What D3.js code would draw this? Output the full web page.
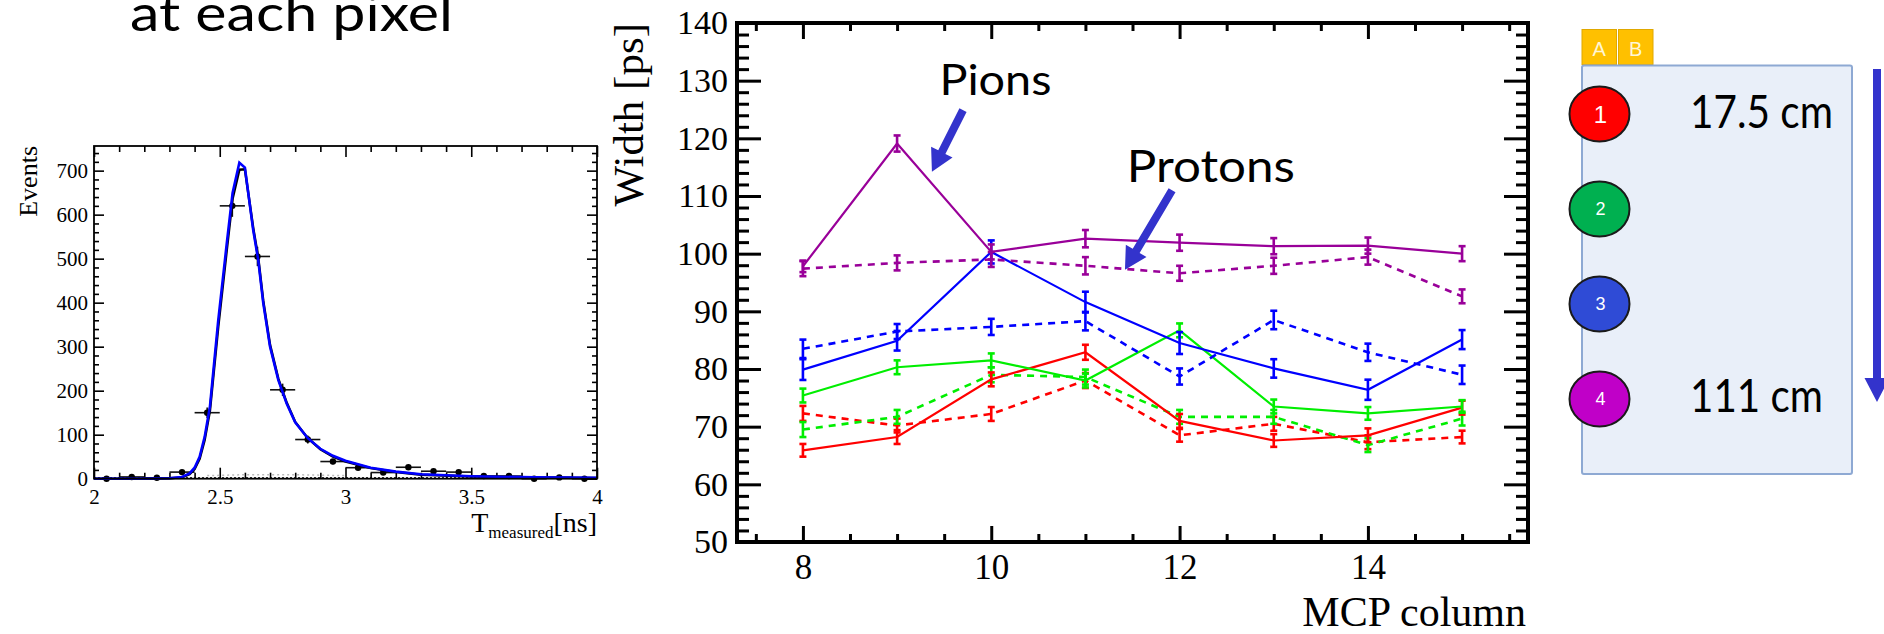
<!DOCTYPE html>
<meta charset="utf-8">
<style>
body { margin: 0; background: #fff; }
svg { display: block; }
.frame { fill: none; stroke: #000; }
.tick line { stroke: #000; }
.serif { font-family: "Liberation Serif", "Times New Roman", serif; }
.slide { font-family: Lato, "Open Sans", sans-serif; }
</style>
<body>
<script src="https://cdn.jsdelivr.net/npm/d3@7"></script>
<script>

// ---- data: width vs MCP column (ps) ----
var columns = [8, 9, 10, 11, 12, 13, 14, 15];
var redSolid     = [65.9, 68.2, 78.2, 82.9, 71.0, 67.6, 68.5, 73.3];
var redDashed    = [72.3, 70.2, 72.2, 78.0, 68.5, 70.5, 67.3, 68.2];
var greenSolid   = [75.4, 80.3, 81.5, 78.0, 86.7, 73.5, 72.3, 73.5];
var greenDashed  = [69.5, 71.7, 79.0, 78.6, 71.7, 71.7, 66.8, 71.4];
var blueSolid    = [79.9, 84.9, 100.3, 91.6, 84.5, 80.1, 76.4, 85.1];
var blueDashed   = [83.5, 86.5, 87.3, 88.3, 78.7, 88.5, 82.9, 79.0];
var purpleSolid  = [97.8, 119.1, 100.3, 102.6, 101.9, 101.3, 101.4, 100.0];
var purpleDashed = [97.4, 98.4, 99.0, 97.9, 96.6, 97.9, 99.4, 92.6];

var redSolidErr     = [1.1, 1.2, 1.2, 1.3, 1.2, 1.1, 1.2, 1.2];
var redDashedErr    = [1.3, 1.2, 1.2, 1.3, 1.1, 1.2, 1.2, 1.1];
var greenSolidErr   = [1.2, 1.2, 1.2, 1.2, 1.2, 1.2, 1.1, 1.1];
var greenDashedErr  = [1.3, 1.2, 1.3, 1.3, 1.2, 1.2, 1.2, 1.2];
var blueSolidErr    = [1.8, 1.7, 2.0, 1.8, 1.9, 1.6, 1.75, 1.65];
var blueDashedErr   = [1.6, 1.3, 1.4, 1.6, 1.4, 1.6, 1.5, 1.6];
var purpleSolidErr  = [1.0, 1.4, 1.3, 1.5, 1.4, 1.4, 1.4, 1.3];
var purpleDashedErr = [1.3, 1.3, 1.3, 1.5, 1.3, 1.4, 1.3, 1.2];

var xTicks = [8, 10, 12, 14];
var yTicks = [50, 60, 70, 80, 90, 100, 110, 120, 130, 140];

// ---- data: T_measured histogram ----
var binCenters = [2.05, 2.15, 2.25, 2.35, 2.45, 2.55, 2.65, 2.75, 2.85, 2.95,
                  3.05, 3.15, 3.25, 3.35, 3.45, 3.55, 3.65, 3.75, 3.85, 3.95];
var counts    = [0, 4, 2, 15, 150, 620, 505, 202, 89, 39, 25, 14, 26, 17, 15, 6, 6, 0, 3, 0];
var countErr  = [1, 2, 1.5, 4, 12, 25, 22, 14, 9, 6, 5, 4, 5, 4, 4, 2.5, 2.5, 1, 1.7, 1];
var fitX     = [2.0, 2.2, 2.3, 2.35, 2.38, 2.40, 2.42, 2.44, 2.461, 2.494, 2.528, 2.551, 2.578, 2.600,
                2.633, 2.653, 2.673, 2.700, 2.733, 2.766, 2.80, 2.85, 2.90, 2.95, 3.0, 3.1, 3.2, 3.3, 3.5, 3.75, 4.0];
var fitBlue  = [0, 0, 1, 4, 12, 25, 50, 95, 164, 360, 535, 649, 718, 707,
                565, 497, 399, 300, 224, 171, 128, 92, 68, 52, 41, 25, 16, 10, 5.5, 3, 2];
var fitBlack = [0, 0, 1, 3, 10, 22, 45, 88, 155, 345, 520, 636, 702, 703,
                570, 502, 404, 304, 227, 173, 129, 92, 67, 50, 39, 24, 15, 9, 5, 3, 1.5];
var bkgX = [2.45, 2.6, 2.8, 3.0];
var bkgY = [7, 9, 9, 7];
var hxTicks = [2, 2.5, 3, 3.5, 4];
var hyTicks = [0, 100, 200, 300, 400, 500, 600, 700];

// ---- detector sketch ----
var pmts = ["1", "2", "3", "4"];
var pmtColors = ["#ff0000", "#00b050", "#2f4bd6", "#c000c8"];

var svg = d3.select("body").append("svg")
    .attr("width", 1884)
    .attr("height", 634);

// slide title (cut at top)
svg.append("text")
    .attr("class", "slide")
    .attr("x", 130).attr("y", 31)
    .attr("textLength", 323).attr("lengthAdjust", "spacingAndGlyphs")
    .style("font-size", "50px")
    .text("at each pixel");

// ================= left: histogram =================
var hx = d3.scaleLinear().domain([2, 4]).range([94, 597]);
var hy = d3.scaleLinear().domain([0, 756]).range([478.7, 146]);
var h = svg.append("g");

function minorRange(a, b, step, skip) {
  var out = [];
  for (var v = a; v <= b + 1e-9; v += step) {
    var r = Math.round(v * 100) / 100;
    if (skip.indexOf(r) < 0) out.push(r);
  }
  return out;
}

function ticksGroup(g, axis, tr, width) {
  var a = g.append("g").attr("transform", tr).call(axis);
  a.select(".domain").remove();
  a.selectAll(".tick line").style("stroke-width", width);
  return a;
}

var plain = function(d) { return String(d); };
var hxMinor = minorRange(2, 4, 0.1, hxTicks);
var hyMinor = minorRange(0, 740, 20, hyTicks);

ticksGroup(h, d3.axisBottom(hx).tickValues(hxTicks).tickSize(-11).tickPadding(10).tickFormat(plain), "translate(0,478.7)", 1.6)
  .selectAll("text").attr("class", "serif").style("font-size", "21px").attr("fill", "#000");
ticksGroup(h, d3.axisBottom(hx).tickValues(hxMinor).tickSize(-6).tickFormat(""), "translate(0,478.7)", 1.6);
ticksGroup(h, d3.axisTop(hx).tickValues(hxTicks).tickSize(-11).tickFormat(""), "translate(0,146)", 1.6);
ticksGroup(h, d3.axisTop(hx).tickValues(hxMinor).tickSize(-6).tickFormat(""), "translate(0,146)", 1.6);
ticksGroup(h, d3.axisLeft(hy).tickValues(hyTicks).tickSize(-10).tickPadding(6).tickFormat(plain), "translate(94,0)", 1.6)
  .selectAll("text").attr("class", "serif").style("font-size", "21px").attr("fill", "#000");
ticksGroup(h, d3.axisLeft(hy).tickValues(hyMinor).tickSize(-5).tickFormat(""), "translate(94,0)", 1.6);
ticksGroup(h, d3.axisRight(hy).tickValues(hyTicks).tickSize(-10).tickFormat(""), "translate(597,0)", 1.6);
ticksGroup(h, d3.axisRight(hy).tickValues(hyMinor).tickSize(-5).tickFormat(""), "translate(597,0)", 1.6);

h.append("line")
    .attr("x1", hx(2)).attr("x2", hx(4)).attr("y1", hy(0) - 1).attr("y2", hy(0) - 1)
    .style("stroke", "#000").style("stroke-width", 1).style("stroke-dasharray", "2,2");

h.append("path")
    .datum(bkgY)
    .attr("fill", "none").attr("stroke", "#bbb").attr("stroke-width", 1.5)
    .attr("stroke-dasharray", "2,3")
    .attr("d", d3.line().x(function(d, i) { return hx(bkgX[i]); }).y(function(d) { return hy(d); }));

// data points with errors
var hp = h.append("g").selectAll("g").data(counts).enter().append("g");
hp.append("line")
    .attr("x1", function(d, i) { return hx(binCenters[i] - 0.05); })
    .attr("x2", function(d, i) { return hx(binCenters[i] + 0.05); })
    .attr("y1", function(d) { return hy(d); })
    .attr("y2", function(d) { return hy(d); })
    .attr("stroke", "#111").attr("stroke-width", 1.6);
hp.append("line")
    .attr("x1", function(d, i) { return hx(binCenters[i]); })
    .attr("x2", function(d, i) { return hx(binCenters[i]); })
    .attr("y1", function(d, i) { return hy(Math.max(0, d - countErr[i])); })
    .attr("y2", function(d, i) { return hy(d + countErr[i]); })
    .attr("stroke", "#111").attr("stroke-width", 1.6);
hp.append("circle")
    .attr("cx", function(d, i) { return hx(binCenters[i]); })
    .attr("cy", function(d) { return hy(d); })
    .attr("r", 3.2).attr("fill", "#000");

var fitLine = function(vals) {
  return d3.line()
    .x(function(d, i) { return hx(fitX[i]); })
    .y(function(d) { return hy(d); })(vals);
};
h.append("path").attr("d", fitLine(fitBlack))
    .attr("fill", "none").attr("stroke", "#000").attr("stroke-width", 2.5);
h.append("path").attr("d", fitLine(fitBlue))
    .attr("fill", "none").attr("stroke", "#0000ff").attr("stroke-width", 2.6);

h.append("rect").attr("class", "frame")
    .attr("x", hx(2)).attr("y", hy(756))
    .attr("width", hx(4) - hx(2)).attr("height", hy(0) - hy(756))
    .style("stroke-width", 1.8);

h.append("text").attr("class", "serif")
    .attr("transform", "translate(37,146) rotate(-90)")
    .attr("text-anchor", "end")
    .style("font-size", "26px")
    .text("Events");

var tlab = h.append("text").attr("class", "serif")
    .attr("x", 597).attr("y", 532)
    .attr("text-anchor", "end")
    .style("font-size", "28px");
tlab.append("tspan").text("T");
tlab.append("tspan").attr("dy", 6).style("font-size", "17px").text("measured");
tlab.append("tspan").attr("dy", -6).text("[ns]");

// ================= middle: width vs column =================
var mx = d3.scaleLinear().domain([7.3, 15.7]).range([737, 1528]);
var my = d3.scaleLinear().domain([50, 140]).range([542, 23]);
var m = svg.append("g");

var mxMinor = minorRange(7.5, 15.5, 0.5, xTicks);
var myMinor = minorRange(52, 138, 2, yTicks);

ticksGroup(m, d3.axisBottom(mx).tickValues(xTicks).tickSize(-16).tickPadding(12), "translate(0,542)", 3)
  .selectAll("text").attr("class", "serif").style("font-size", "35px").attr("fill", "#000");
ticksGroup(m, d3.axisBottom(mx).tickValues(mxMinor).tickSize(-8).tickFormat(""), "translate(0,542)", 3);
ticksGroup(m, d3.axisTop(mx).tickValues(xTicks).tickSize(-16).tickFormat(""), "translate(0,23)", 3);
ticksGroup(m, d3.axisTop(mx).tickValues(mxMinor).tickSize(-8).tickFormat(""), "translate(0,23)", 3);
ticksGroup(m, d3.axisLeft(my).tickValues(yTicks).tickSize(-24).tickPadding(9), "translate(737,0)", 3)
  .selectAll("text").attr("class", "serif").style("font-size", "34px").attr("fill", "#000");
ticksGroup(m, d3.axisLeft(my).tickValues(myMinor).tickSize(-12).tickFormat(""), "translate(737,0)", 3);
ticksGroup(m, d3.axisRight(my).tickValues(yTicks).tickSize(-24).tickFormat(""), "translate(1528,0)", 3);
ticksGroup(m, d3.axisRight(my).tickValues(myMinor).tickSize(-12).tickFormat(""), "translate(1528,0)", 3);

var series = [
  {vals: redDashed, err: redDashedErr, color: "#ff0000", dash: true},
  {vals: greenDashed, err: greenDashedErr, color: "#00ee00", dash: true},
  {vals: redSolid, err: redSolidErr, color: "#ff0000", dash: false},
  {vals: greenSolid, err: greenSolidErr, color: "#00ee00", dash: false},
  {vals: blueDashed, err: blueDashedErr, color: "#0000ff", dash: true},
  {vals: blueSolid, err: blueSolidErr, color: "#0000ff", dash: false},
  {vals: purpleDashed, err: purpleDashedErr, color: "#990099", dash: true},
  {vals: purpleSolid, err: purpleSolidErr, color: "#990099", dash: false}
];

var valueline = d3.line()
    .x(function(d, i) { return mx(columns[i]); })
    .y(function(d) { return my(d); });

series.forEach(function(s) {
  m.append("path")
      .datum(s.vals)
      .attr("fill", "none")
      .attr("stroke", s.color)
      .attr("stroke-width", s.dash ? 2.6 : 2.2)
      .attr("stroke-dasharray", s.dash ? "7,6" : null)
      .attr("d", valueline);

  var eb = m.append("g").attr("stroke", s.color).attr("stroke-width", 2.6)
    .selectAll("g").data(s.vals).enter().append("g");
  eb.append("line")
      .attr("x1", function(d, i) { return mx(columns[i]); })
      .attr("x2", function(d, i) { return mx(columns[i]); })
      .attr("y1", function(d, i) { return my(d - s.err[i]); })
      .attr("y2", function(d, i) { return my(d + s.err[i]); });
  [-1, 1].forEach(function(sign) {
    eb.append("line")
        .attr("x1", function(d, i) { return mx(columns[i]) - 3.5; })
        .attr("x2", function(d, i) { return mx(columns[i]) + 3.5; })
        .attr("y1", function(d, i) { return my(d + sign * s.err[i]); })
        .attr("y2", function(d, i) { return my(d + sign * s.err[i]); });
  });
});

m.append("rect").attr("class", "frame")
    .attr("x", mx(7.3)).attr("y", my(140))
    .attr("width", mx(15.7) - mx(7.3)).attr("height", my(50) - my(140))
    .style("stroke-width", 4);

m.append("text").attr("class", "serif")
    .attr("transform", "translate(643,23) rotate(-90)")
    .attr("text-anchor", "end")
    .style("font-size", "43px")
    .text("Width [ps]");

m.append("text").attr("class", "serif")
    .attr("x", 1526).attr("y", 626)
    .attr("text-anchor", "end")
    .style("font-size", "42px")
    .text("MCP column");

// annotation arrows
function arrow(g, x1, y1, x2, y2, w, hw, hl) {
  var dx = x2 - x1, dy = y2 - y1, len = Math.sqrt(dx * dx + dy * dy);
  var ux = dx / len, uy = dy / len, nx = -uy, ny = ux;
  var bx = x2 - ux * hl, by = y2 - uy * hl;
  var pts = [
    [x1 + nx * w / 2, y1 + ny * w / 2],
    [bx + nx * w / 2, by + ny * w / 2],
    [bx + nx * hw / 2, by + ny * hw / 2],
    [x2, y2],
    [bx - nx * hw / 2, by - ny * hw / 2],
    [bx - nx * w / 2, by - ny * w / 2],
    [x1 - nx * w / 2, y1 - ny * w / 2]
  ];
  g.append("path").attr("d", "M" + pts.join("L") + "Z").attr("fill", "#3333cc");
}

arrow(m, mx(9.70), my(124.9), mx(9.37), my(114.2), 8, 24, 22);
arrow(m, mx(11.92), my(111.0), mx(11.42), my(97.2), 8, 24, 22);

m.append("text").attr("class", "slide")
    .attr("x", mx(9.45)).attr("y", 95)
    .attr("textLength", 112).attr("lengthAdjust", "spacingAndGlyphs")
    .style("font-size", "42px")
    .text("Pions");
m.append("text").attr("class", "slide")
    .attr("x", mx(11.44)).attr("y", 182)
    .attr("textLength", 168).attr("lengthAdjust", "spacingAndGlyphs")
    .style("font-size", "44px")
    .text("Protons");

// ================= right: detector sketch =================
var r = svg.append("g");
["A", "B"].forEach(function(t, i) {
  r.append("rect")
      .attr("x", 1582 + i * 36.5).attr("y", 29.5)
      .attr("width", 34.5).attr("height", 35)
      .attr("fill", "#ffc000").attr("stroke", "#e0a800").attr("stroke-width", 1);
  r.append("text")
      .attr("x", 1582 + i * 36.5 + 17.2).attr("y", 56)
      .attr("text-anchor", "middle")
      .style("font-family", "'Liberation Sans', Arial, sans-serif")
      .style("font-size", "20px")
      .attr("fill", "#fff6d6")
      .text(t);
});

r.append("rect")
    .attr("x", 1582).attr("y", 65.5)
    .attr("width", 270).attr("height", 408.5)
    .attr("rx", 2)
    .attr("fill", "#e9eff9").attr("stroke", "#8ea9d3").attr("stroke-width", 2);

var pmtY = d3.scalePoint().domain(pmts).range([114, 399]);
var pm = r.selectAll("g.pmt").data(pmts).enter().append("g").attr("class", "pmt");
pm.append("ellipse")
    .attr("cx", 1599.5).attr("cy", function(d) { return pmtY(d); })
    .attr("rx", 30).attr("ry", 27.5)
    .attr("fill", function(d, i) { return pmtColors[i]; })
    .attr("stroke", "#1a1a1a").attr("stroke-width", 2);
pm.append("text")
    .attr("x", 1600.5).attr("y", function(d) { return pmtY(d); })
    .attr("dy", "0.36em")
    .attr("text-anchor", "middle")
    .style("font-family", "'Liberation Sans', Arial, sans-serif")
    .style("font-size", function(d, i) { return i === 0 ? "24px" : "18px"; })
    .attr("fill", "#fff")
    .text(function(d) { return d; });

r.append("text").attr("class", "slide")
    .attr("x", 1690).attr("y", 128)
    .attr("textLength", 143).attr("lengthAdjust", "spacingAndGlyphs")
    .style("font-size", "46px")
    .text("17.5 cm");
r.append("text").attr("class", "slide")
    .attr("x", 1690).attr("y", 412)
    .attr("textLength", 133).attr("lengthAdjust", "spacingAndGlyphs")
    .style("font-size", "46px")
    .text("111 cm");

arrow(r, 1877, 69, 1877, 402, 8, 25, 24);

</script>
</body>
